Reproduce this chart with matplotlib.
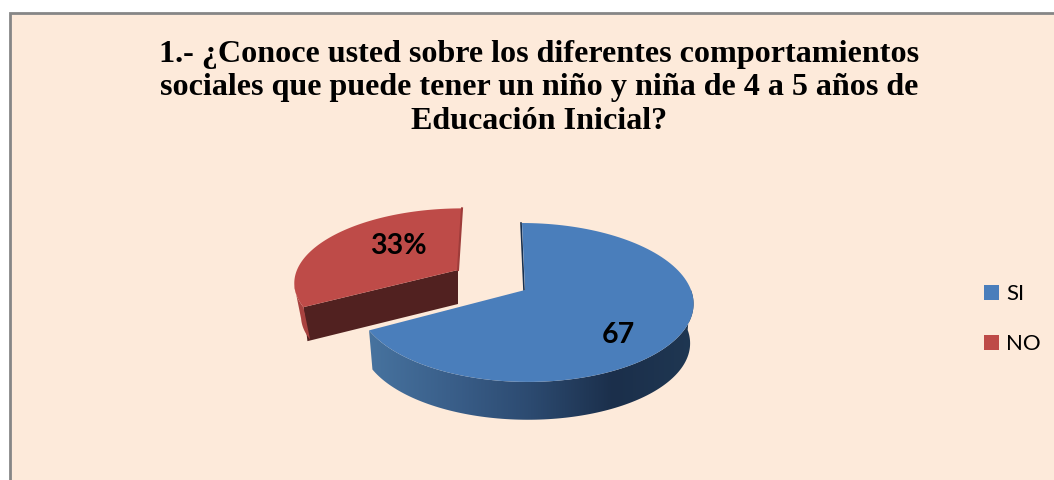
import numpy as np
import matplotlib
matplotlib.use('Agg')
import matplotlib.pyplot as plt
from matplotlib.colors import LinearSegmentedColormap
from matplotlib.patches import Polygon, Rectangle

TITLE = ('1.- ¿Conoce usted sobre los diferentes comportamientos\n'
         'sociales que puede tener un niño y niña de 4 a 5 años de\n'
         'Educación Inicial?')
categories = ['SI', 'NO']
values = [67, 33]
value_labels = ['67', '33%']

BG = '#FDEADA'
BLUE = '#4A7EBB'
RED = '#BE4B48'

# perspective of the pie, everything below is in image pixels
PERSP = 0.157
RX = 166
RY = 77.5


def project(theta, cx, cy, sx=1.0, sy=1.0, radius=1.0, skew=0.0):
    # theta in degrees, clockwise from 12 o'clock
    t = np.radians(theta)
    u = radius * np.sin(t)
    v = radius * np.cos(t)
    w = 1 + PERSP * v
    return cx + RX * sx * u / w + skew * v, cy - RY * sy * v / w


def rim(start, end, cx, cy, **kw):
    th = np.linspace(start, end, 120)
    x, y = project(th, cx, cy, **kw)
    return np.column_stack([x, y])


def band(start, end, cx, cy, depth, shrink=1.0, **kw):
    top = rim(start, end, cx, cy, **kw)
    bottom = rim(start, end, cx, cy + depth, radius=shrink, **kw)
    return np.vstack([top, bottom[::-1]])


fig = plt.figure(figsize=(10.54, 4.8), dpi=100, facecolor='white')
ax = fig.add_axes([0, 0, 1, 1])
ax.axis('off')

ax.add_patch(Rectangle((10, 13), 1100, 520, facecolor=BG, edgecolor='#868686', lw=2, zorder=0))

ax.text(539, 88, TITLE, family='Liberation Serif', weight='bold', fontsize=23.1,
        ha='center', va='center', linespacing=1.2, color='black', zorder=5)

angles = np.cumsum([0] + values) / sum(values) * 360

# exploded red slice
red_c = (458, 270)
red_depth = 34
red_kw = dict(sx=0.97, sy=0.92, skew=4)
red_start, red_end = angles[1], angles[2]
corner = project(red_start, *red_c, **red_kw)
ax.add_patch(Polygon([red_c, corner, (corner[0] + 4, corner[1] + red_depth),
                      (red_c[0], red_c[1] + red_depth)], facecolor='#512120', edgecolor='none', zorder=1))
ax.add_patch(Polygon(band(red_start, 258, *red_c, red_depth, shrink=0.96, **red_kw),
                     facecolor='#A8423F', edgecolor='none', zorder=1))
ax.add_patch(Polygon(np.vstack([[red_c], rim(red_start, red_end, *red_c, **red_kw)]),
                     facecolor=RED, edgecolor='none', zorder=2))
red_x, red_y = project(red_end, *red_c, **red_kw)
ax.plot([red_x, red_c[0]], [red_y, red_c[1]], color='#9E3C3A', lw=1.5, zorder=2.5)

# blue slice, side wall gets a horizontal gradient
blue_c = (525, 290)
blue_depth = 40
blue_kw = dict(skew=-3)
wall = Polygon(band(angles[0] + 90, angles[1], *blue_c, blue_depth, shrink=0.98, **blue_kw),
               facecolor='none', edgecolor='none', zorder=1)
ax.add_patch(wall)
cmap = LinearSegmentedColormap.from_list('wall', ['#47739F', '#3A5F8A', '#2C4A70', '#1B2F4B', '#1F3752'])
grad = ax.imshow(np.linspace(0, 1, 256).reshape(1, -1), extent=(368, 695, 440, 290), cmap=cmap,
                 aspect='auto', zorder=1)
grad.set_clip_path(wall)
ax.add_patch(Polygon(np.vstack([[blue_c], rim(angles[0], angles[1], *blue_c, **blue_kw)]),
                     facecolor=BLUE, edgecolor='none', zorder=2))
edge_x, edge_y = project(angles[0], *blue_c, **blue_kw)
ax.plot([edge_x - 1, blue_c[0] - 1], [edge_y, blue_c[1]], color='#17304F', lw=1.2, zorder=1.5)

# value labels
ax.text(618, 335, value_labels[0], family='Lato', weight='bold', fontsize=20.5,
        ha='center', va='center', color='black', zorder=5)
ax.text(398, 246, value_labels[1], family='Lato', weight='bold', fontsize=20.5,
        ha='center', va='center', color='black', zorder=5)

# legend
handles = [Rectangle((0, 0), 1, 1, facecolor=c, edgecolor='none') for c in (BLUE, RED)]
ax.legend(handles, categories, loc='upper left', bbox_to_anchor=(984 / 1054, 1 - 284 / 480), frameon=False,
          prop={'family': 'Lato', 'size': 16}, handlelength=0.68, handleheight=0.68,
          handletextpad=0.32, labelspacing=1.37, borderpad=0.0, borderaxespad=0.0)

ax.set_xlim(0, 1054)
ax.set_ylim(480, 0)
fig.savefig('out.png', dpi=100)
